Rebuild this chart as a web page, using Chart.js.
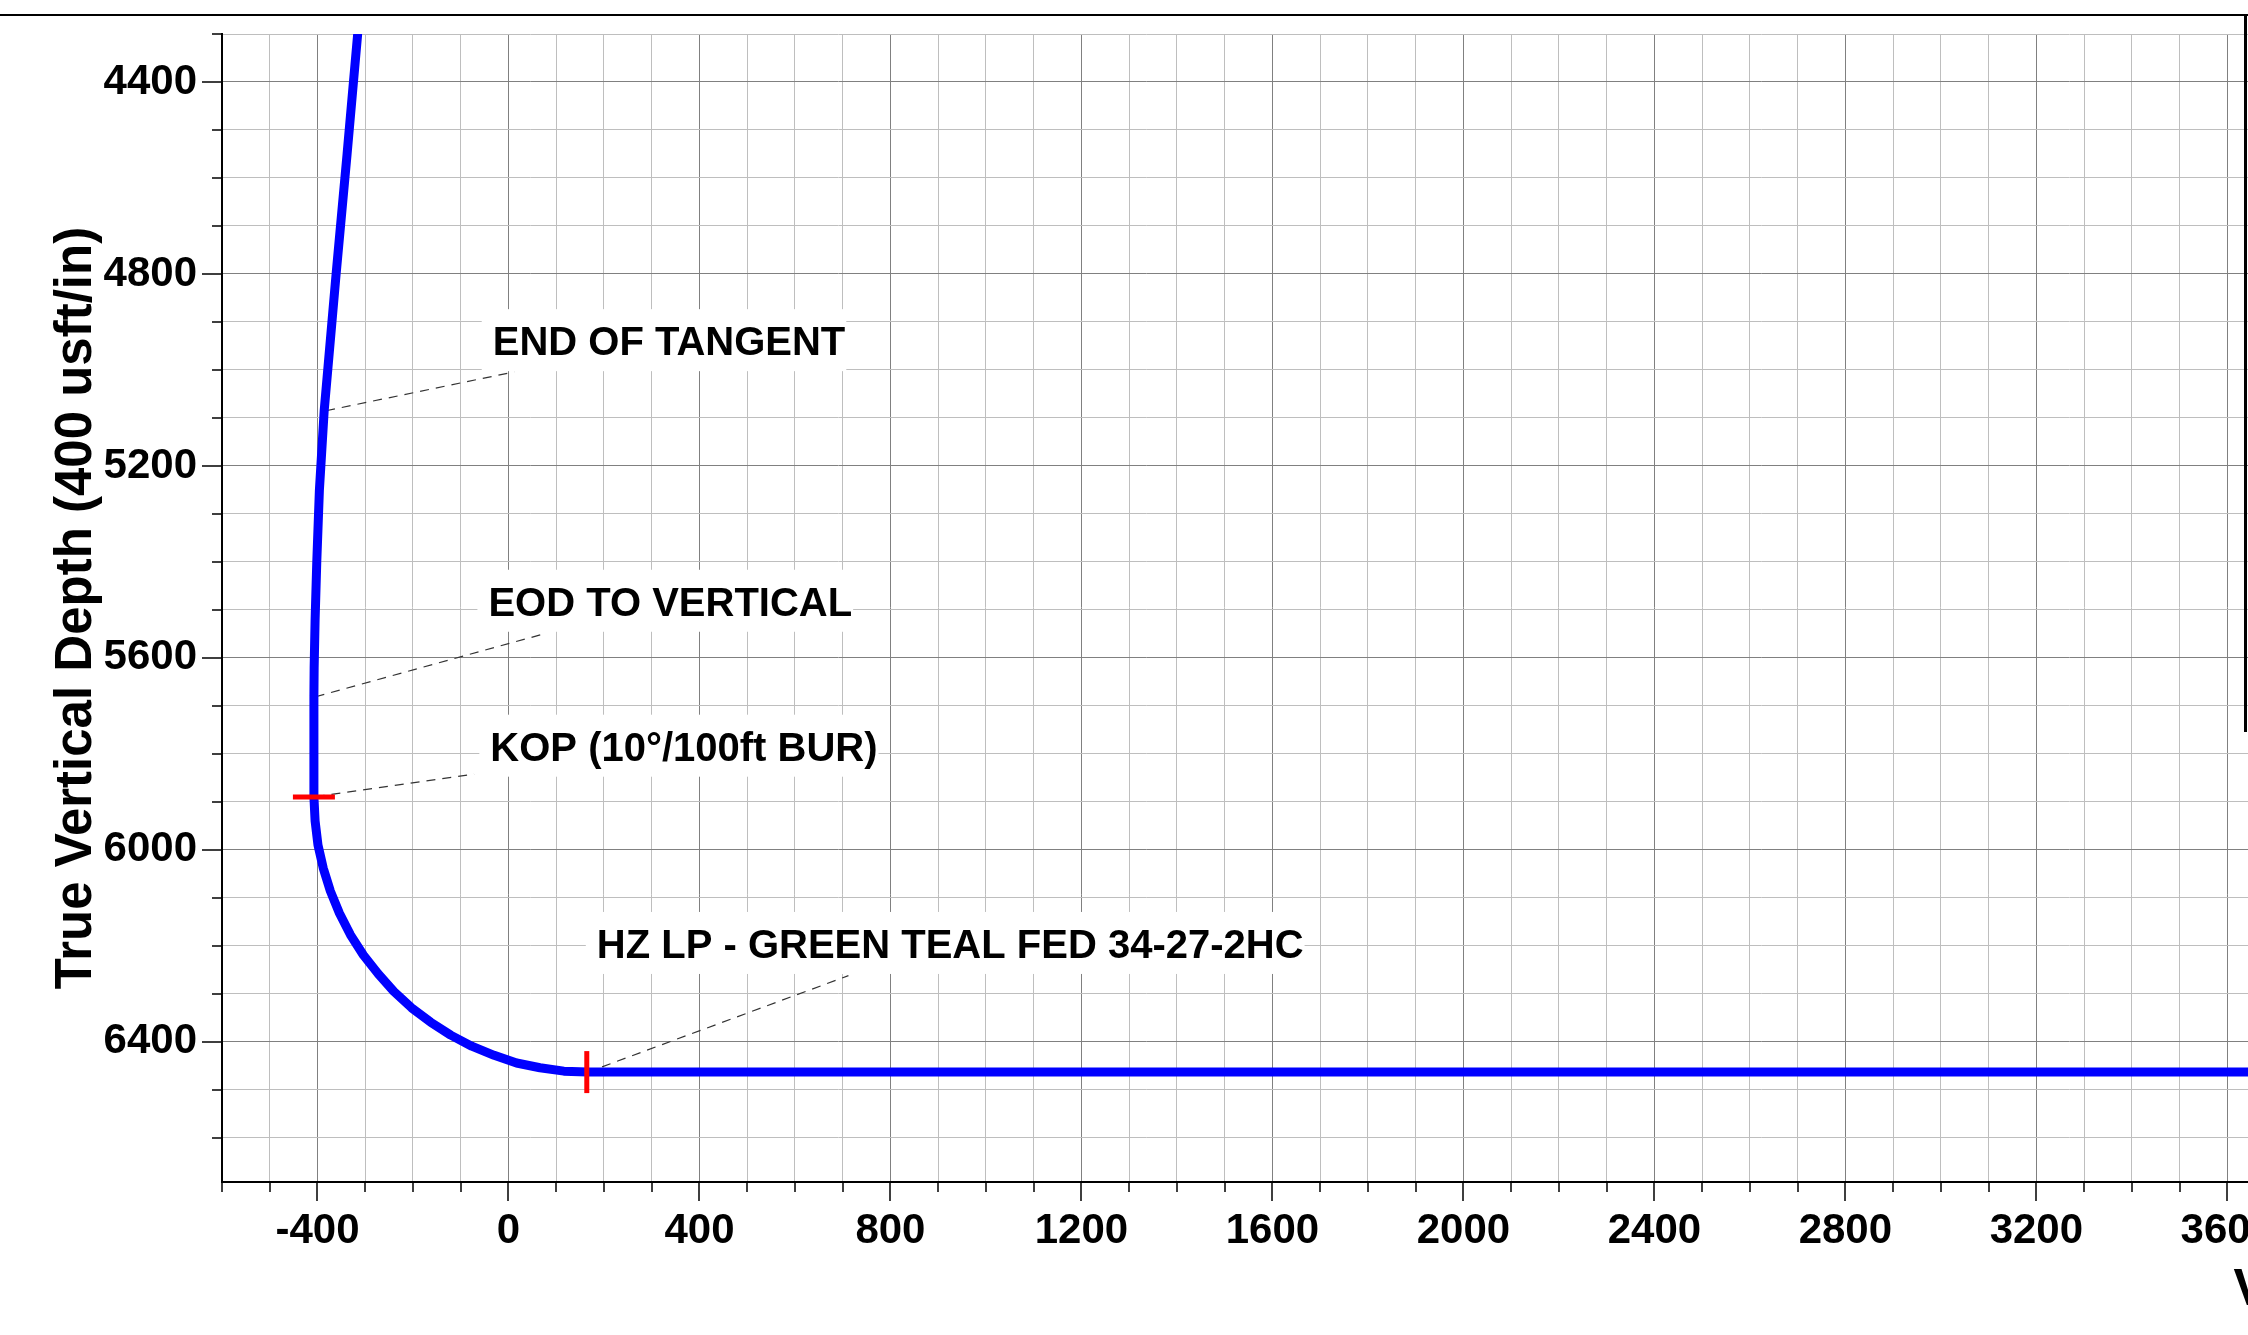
<!DOCTYPE html>
<html>
<head>
<meta charset="utf-8">
<title>Vertical Section</title>
<script src="https://cdn.jsdelivr.net/npm/chart.js@4.4.1/dist/chart.umd.min.js"></script>
<style>
  html, body { margin: 0; padding: 0; background: #fff; overflow: hidden; }
  #wrap { position: relative; width: 2248px; height: 1335px; overflow: hidden; }
  #plot { position: absolute; left: 0; top: 0; }
  .frame { position: absolute; background: #000; }
</style>
</head>
<body>
<div id="wrap">
  <canvas id="plot"></canvas>
  <div class="frame" style="left:0;top:14px;width:2248px;height:2px"></div>
  <div class="frame" style="left:2244px;top:14px;width:3px;height:718px"></div>
</div>
<script>
/* =============================================
   Vertical section plot — TVD vs VS
   ============================================= */

// well path: vertical section (usft) and true vertical depth (usft)
const pathVs  = [-316, -338, -361, -386, -396, -401.5, -405, -407, -407.5, -407.5, -405, -399, -388, -373, -354, -331, -304, -273, -240, -203, -163, -121, -77, -30, 17, 66, 116, 165, 9300];
const pathTvd = [4302, 4550, 4800, 5085, 5250, 5400, 5520, 5620, 5680, 5890, 5940, 5990, 6038, 6086, 6132, 6177, 6219, 6258, 6295, 6329, 6359, 6386, 6409, 6428, 6444, 6454, 6461, 6463, 6463];

// red survey markers: KOP and HZ landing point
const markerVs  = [-407.5, 164];
const markerTvd = [5890, 6463];

// callouts
const calloutText = ['END OF TANGENT', 'EOD TO VERTICAL', 'KOP (10°/100ft BUR)', 'HZ LP - GREEN TEAL FED 34-27-2HC'];
const calloutVs   = [-33, -42, -38, 185];
const calloutTvd  = [4940, 5483, 5785, 6196];
const leaderFromVs  = [-382, -404, -404, 196];
const leaderFromTvd = [5085, 5681, 5889, 6452];
const leaderToVs    = [12, 74, -72, 712];
const leaderToTvd   = [5004, 5550, 5842, 6262];

// axes
const xTickLabels = [-400, 0, 400, 800, 1200, 1600, 2000, 2400, 2800, 3200, 3600];
const yTickLabels = [4400, 4800, 5200, 5600, 6000, 6400];
const X_MIN = -600, X_MAX = 9715;
const Y_MIN = 4300, Y_MAX = 6692;
const MINOR = 100;

const PX_PER_FT = 1148 / (Y_MAX - Y_MIN);
const LEFT = 222, TOP = 34, XAXIS_H = 153, H = 1335;
const W = Math.round(LEFT + (X_MAX - X_MIN) * PX_PER_FT);

const FONT = '"Liberation Sans", Arial, sans-serif';
Chart.defaults.font.family = FONT;
Chart.defaults.color = '#000';

function minorTicks(min, max) {
  const out = [];
  for (let v = Math.ceil(min / MINOR) * MINOR; v <= max; v += MINOR) out.push({ value: v });
  return out;
}

const tickMarks = {
  id: 'tickMarks',
  afterDatasetsDraw(chart) {
    const { ctx, chartArea: a, scales: { x, y } } = chart;
    ctx.save();
    ctx.strokeStyle = '#000';
    ctx.lineWidth = 1.5;
    ctx.beginPath();
    x.ticks.forEach(t => {
      const px = Math.round(x.getPixelForValue(t.value));
      const len = xTickLabels.includes(t.value) ? 19 : 10;
      ctx.moveTo(px, a.bottom);
      ctx.lineTo(px, a.bottom + len);
    });
    y.ticks.forEach(t => {
      const py = Math.round(y.getPixelForValue(t.value));
      const len = yTickLabels.includes(t.value) ? 20 : 10;
      ctx.moveTo(a.left, py);
      ctx.lineTo(a.left - len, py);
    });
    ctx.stroke();
    ctx.restore();
  }
};

const callouts = {
  id: 'callouts',
  beforeDatasetsDraw(chart) {
    const { ctx, scales: { x, y } } = chart;
    ctx.save();
    ctx.font = 'bold 40px ' + FONT;
    calloutText.forEach((txt, i) => {
      const left = x.getPixelForValue(calloutVs[i]);
      const mid = y.getPixelForValue(calloutTvd[i]);
      const w = ctx.measureText(txt).width;
      ctx.fillStyle = '#fff';
      ctx.fillRect(left - 11, mid - 32, w + 12, 62);
      ctx.fillStyle = '#000';
      ctx.textBaseline = 'alphabetic';
      ctx.fillText(txt, left, mid + 14.3);

      ctx.beginPath();
      ctx.setLineDash([9, 7]);
      ctx.strokeStyle = '#333';
      ctx.lineWidth = 1.2;
      ctx.moveTo(x.getPixelForValue(leaderFromVs[i]), y.getPixelForValue(leaderFromTvd[i]));
      ctx.lineTo(x.getPixelForValue(leaderToVs[i]), y.getPixelForValue(leaderToTvd[i]));
      ctx.stroke();
      ctx.setLineDash([]);
    });
    ctx.restore();
  }
};

const canvas = document.getElementById('plot');
canvas.width = W;
canvas.height = H;
canvas.style.width = W + 'px';
canvas.style.height = H + 'px';

new Chart(canvas.getContext('2d'), {
  type: 'scatter',
  data: {
    datasets: [
      {
        label: 'Well path',
        data: pathVs.map((v, i) => ({ x: v, y: pathTvd[i] })),
        showLine: true,
        borderColor: '#0000ff',
        borderWidth: 9,
        borderCapStyle: 'round',
        borderJoinStyle: 'round',
        pointRadius: 0,
        tension: 0,
        fill: false,
        order: 1
      },
      {
        label: 'Markers',
        data: markerVs.map((v, i) => ({ x: v, y: markerTvd[i] })),
        showLine: false,
        pointStyle: 'line',
        pointRotation: [0, 90],
        pointRadius: 21,
        pointBorderWidth: 5,
        pointBorderColor: '#ff0000',
        pointBackgroundColor: '#ff0000',
        order: 0
      }
    ]
  },
  options: {
    responsive: false,
    animation: false,
    devicePixelRatio: 1,
    events: [],
    layout: { padding: { top: TOP, left: 0, right: 0, bottom: 0 } },
    plugins: { legend: { display: false }, tooltip: { enabled: false } },
    scales: {
      x: {
        type: 'linear',
        position: 'bottom',
        min: X_MIN,
        max: X_MAX,
        afterBuildTicks: s => { s.ticks = minorTicks(X_MIN, X_MAX); },
        afterFit: s => { s.height = XAXIS_H; s.paddingLeft = 0; s.paddingRight = 0; },
        ticks: {
          autoSkip: false,
          maxRotation: 0,
          padding: 24,
          font: { size: 42, weight: 'bold' },
          color: '#000',
          callback: v => xTickLabels.includes(v) ? String(v) : ''
        },
        grid: {
          drawTicks: false,
          lineWidth: 1,
          color: c => (c.tick && c.tick.value % 400 === 0) ? '#808080' : '#bebebe'
        },
        border: { color: '#000', width: 2 },
        title: {
          display: true,
          text: 'Vertical Section at 90.00° (400 usft/in)',
          font: { size: 51, weight: 'bold' },
          color: '#000',
          padding: { top: 0, bottom: 13 }
        }
      },
      y: {
        type: 'linear',
        position: 'left',
        reverse: true,
        min: Y_MIN,
        max: Y_MAX,
        afterBuildTicks: s => { s.ticks = minorTicks(Y_MIN, Y_MAX); },
        afterFit: s => { s.width = LEFT; s.paddingTop = 0; s.paddingBottom = 0; },
        ticks: {
          autoSkip: false,
          padding: 25,
          font: { size: 42, weight: 'bold' },
          color: '#000',
          callback: v => yTickLabels.includes(v) ? String(v) : ''
        },
        grid: {
          drawTicks: false,
          lineWidth: 1,
          color: c => (c.tick && c.tick.value % 400 === 0) ? '#808080' : '#bebebe'
        },
        border: { color: '#000', width: 2 },
        title: {
          display: true,
          text: 'True Vertical Depth (400 usft/in)',
          font: { size: 51, weight: 'bold' },
          color: '#000',
          padding: { top: 46, bottom: 0 }
        }
      }
    }
  },
  plugins: [callouts, tickMarks]
});
</script>
</body>
</html>
